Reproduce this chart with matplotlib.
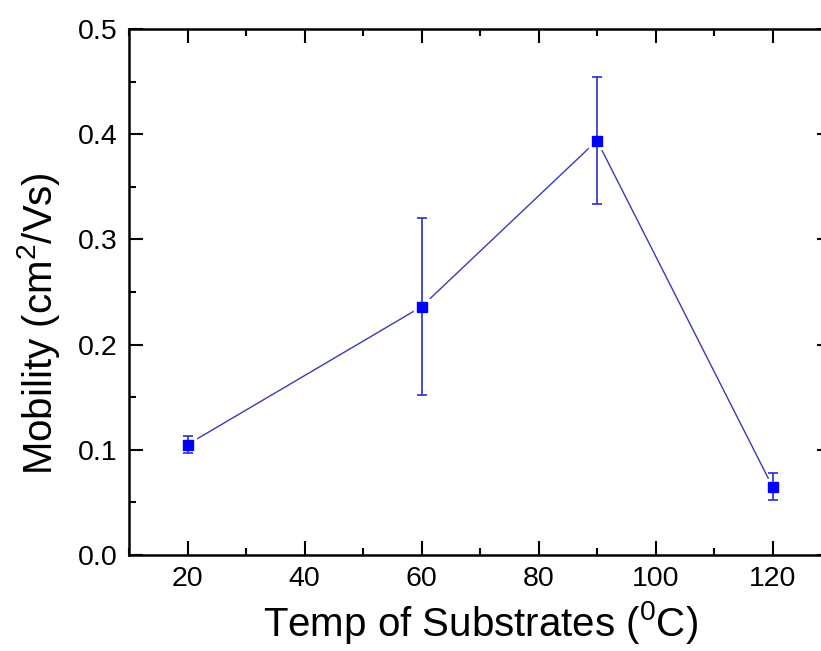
import matplotlib
matplotlib.use("Agg")
import matplotlib.pyplot as plt
from matplotlib.ticker import MultipleLocator

plt.rcParams['font.family'] = ['Liberation Sans', 'DejaVu Sans']
plt.rcParams['mathtext.fontset'] = 'custom'
plt.rcParams['mathtext.rm'] = 'Liberation Sans'

temperature = [20, 60, 90, 120]
mobility = [0.105, 0.236, 0.394, 0.065]
mobility_err = [0.008, 0.084, 0.060, 0.0125]

fig = plt.figure(figsize=(8.21, 6.51), dpi=100)
ax = fig.add_axes([129 / 821, 1 - 555 / 651, (831 - 129) / 821, (555 - 29) / 651])

# connecting line, with a small white halo so it stops short of each symbol
ax.plot(temperature, mobility, color='#3a3ab8', lw=1.0, zorder=2)
ax.plot(temperature, mobility, ls='none', marker='s', ms=11, color='white',
        markeredgecolor='white', zorder=2.5)
ax.errorbar(temperature, mobility, yerr=mobility_err, fmt='none',
            ecolor='#2b2bd6', elinewidth=1.2, capsize=3.8, capthick=1.2, zorder=3)
ax.plot(temperature, mobility, ls='none', marker='s', ms=6.5, color='#0000ff',
        markeredgecolor='#0000ff', zorder=4)

ax.set_xlim(10, 130)
ax.set_ylim(0.0, 0.5)
ax.xaxis.set_minor_locator(MultipleLocator(10))
ax.yaxis.set_minor_locator(MultipleLocator(0.05))
ax.set_xticks([20, 40, 60, 80, 100, 120])
ax.set_yticks([0.0, 0.1, 0.2, 0.3, 0.4, 0.5])
ax.yaxis.set_major_formatter(plt.FuncFormatter(lambda v, p: f"{v:.1f}"))

ax.tick_params(which='both', direction='in', top=True, right=True, width=1.5,
               labelsize=20.5, pad=8)
ax.tick_params(which='major', length=10)
ax.tick_params(which='minor', length=5)
for s in ax.spines.values():
    s.set_linewidth(1.8)

ax.set_xlabel(r'Temp of Substrates ($^{\mathregular{0}}$C)', fontsize=29)
ax.set_ylabel(r'Mobility (cm$^{\mathregular{2}}$/Vs)', fontsize=29)
ax.xaxis.set_label_coords(0.5, -(636 - 555) / 526)
ax.xaxis.label.set_va('baseline')
ax.yaxis.set_label_coords(-(129 - 62) / 702, 0.44)

fig.savefig('out.png', dpi=100)
